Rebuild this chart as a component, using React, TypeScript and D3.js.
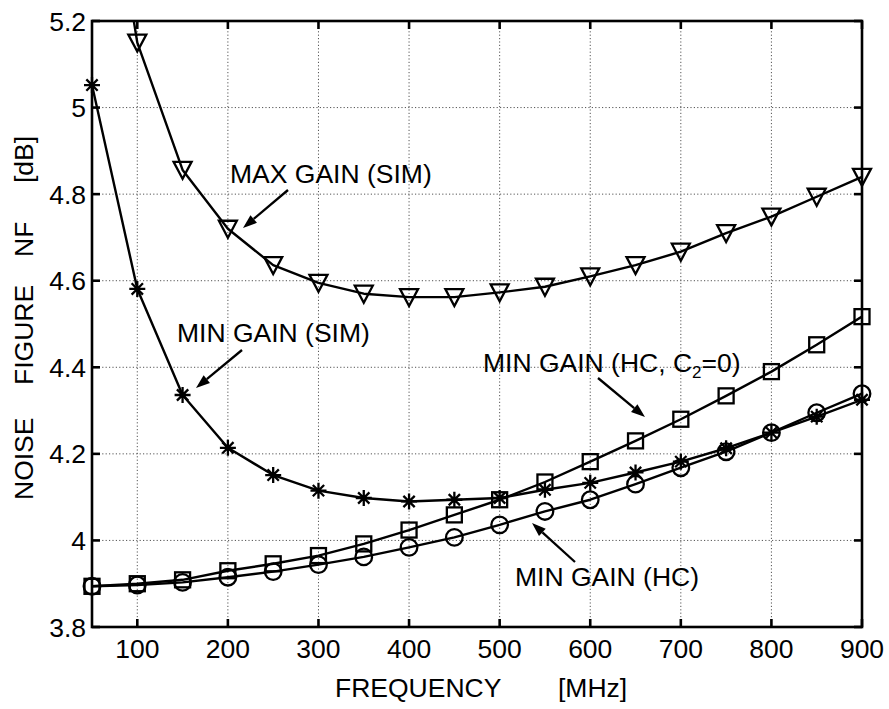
import React, { useEffect, useRef } from 'react';
import * as d3 from 'd3';

const frequencies = [50, 100, 150, 200, 250, 300, 350, 400, 450, 500, 550, 600, 650, 700, 750, 800, 850, 900];
const maxGainSim = [5.8, 5.15, 4.856, 4.72, 4.636, 4.595, 4.57, 4.562, 4.562, 4.573, 4.586, 4.61, 4.636, 4.667, 4.71, 4.748, 4.794, 4.84];
const minGainSim = [5.052, 4.581, 4.336, 4.214, 4.151, 4.115, 4.098, 4.09, 4.094, 4.098, 4.117, 4.133, 4.157, 4.182, 4.213, 4.249, 4.286, 4.325];
const minGainHcC2 = [3.894, 3.9, 3.909, 3.93, 3.946, 3.965, 3.992, 4.024, 4.059, 4.094, 4.135, 4.182, 4.23, 4.28, 4.334, 4.39, 4.452, 4.517];
const minGainHc = [3.894, 3.897, 3.903, 3.915, 3.928, 3.944, 3.962, 3.984, 4.007, 4.036, 4.067, 4.094, 4.13, 4.168, 4.205, 4.249, 4.295, 4.339];

const xTicks = [100, 200, 300, 400, 500, 600, 700, 800, 900];
const yTicks = [3.8, 4, 4.2, 4.4, 4.6, 4.8, 5, 5.2];
const yTickLabels = ['3.8', '4', '4.2', '4.4', '4.6', '4.8', '5', '5.2'];

const FONT = '"Liberation Sans", Arial, Helvetica, sans-serif';

export default function App() {
  const ref = useRef<SVGSVGElement>(null);

  useEffect(() => {
    const svg = d3.select(ref.current);
    svg.selectAll('*').remove();

    const left = 92, right = 862, top = 21, bottom = 627;
    const x = d3.scaleLinear().domain([50, 900]).range([left, right]);
    const y = d3.scaleLinear().domain([3.8, 5.2]).range([bottom, top]);

    svg.append('rect').attr('width', 889).attr('height', 709).attr('fill', '#fff');

    const defs = svg.append('defs');
    defs.append('clipPath').attr('id', 'plotclip')
      .append('rect').attr('x', left).attr('y', top).attr('width', right - left).attr('height', bottom - top);

    // grid
    const grid = svg.append('g').attr('stroke', '#555').attr('stroke-width', 1).attr('stroke-dasharray', '1.2,2.2');
    xTicks.filter(t => t < 900).forEach(t => {
      grid.append('line').attr('x1', x(t)).attr('x2', x(t)).attr('y1', top).attr('y2', bottom);
    });
    yTicks.filter(t => t > 3.8 && t < 5.2).forEach(t => {
      grid.append('line').attr('x1', left).attr('x2', right).attr('y1', y(t)).attr('y2', y(t));
    });

    // series
    const seriesList = [
      { values: maxGainSim, marker: 'tri' },
      { values: minGainSim, marker: 'star' },
      { values: minGainHcC2, marker: 'square' },
      { values: minGainHc, marker: 'circle' },
    ];

    const line = d3.line<number>()
      .x((_, i) => x(frequencies[i]))
      .y(d => y(d));

    const plot = svg.append('g');
    seriesList.forEach(s => {
      plot.append('path')
        .attr('d', line(s.values) as string)
        .attr('clip-path', 'url(#plotclip)')
        .attr('fill', 'none')
        .attr('stroke', '#000')
        .attr('stroke-width', 2.4)
        .attr('stroke-linejoin', 'round');
    });

    seriesList.forEach(s => {
      const g = plot.append('g').attr('fill', 'none').attr('stroke', '#000').attr('stroke-width', 2.3);
      s.values.forEach((v, i) => {
        if (v > 5.2 || v < 3.8) return;
        const cx = x(frequencies[i]);
        const cy = y(v);
        if (s.marker === 'tri') {
          g.append('path').attr('d', `M${cx - 9},${cy - 8}L${cx + 9},${cy - 8}L${cx},${cy + 9}Z`).attr('stroke-linejoin', 'miter');
        } else if (s.marker === 'square') {
          g.append('rect').attr('x', cx - 7.5).attr('y', cy - 7.5).attr('width', 15).attr('height', 15);
        } else if (s.marker === 'circle') {
          g.append('circle').attr('cx', cx).attr('cy', cy).attr('r', 8.3);
        } else {
          const r = 8;
          const d = r * Math.SQRT1_2;
          g.append('path').attr('d',
            `M${cx - r},${cy}L${cx + r},${cy}M${cx},${cy - r}L${cx},${cy + r}` +
            `M${cx - d},${cy - d}L${cx + d},${cy + d}M${cx - d},${cy + d}L${cx + d},${cy - d}`);
        }
      });
    });

    // frame
    svg.append('rect').attr('x', left).attr('y', top).attr('width', right - left).attr('height', bottom - top)
      .attr('fill', 'none').attr('stroke', '#000').attr('stroke-width', 2.6);

    // ticks (inward)
    const ticks = svg.append('g').attr('stroke', '#000').attr('stroke-width', 2.6);
    const tl = 8;
    xTicks.forEach(t => {
      ticks.append('line').attr('x1', x(t)).attr('x2', x(t)).attr('y1', bottom).attr('y2', bottom - tl);
      ticks.append('line').attr('x1', x(t)).attr('x2', x(t)).attr('y1', top).attr('y2', top + tl);
    });
    yTicks.forEach(t => {
      ticks.append('line').attr('x1', left).attr('x2', left + tl).attr('y1', y(t)).attr('y2', y(t));
      ticks.append('line').attr('x1', right).attr('x2', right - tl).attr('y1', y(t)).attr('y2', y(t));
    });

    // tick labels
    const labels = svg.append('g').attr('font-family', FONT).attr('font-size', 26.5).attr('fill', '#000');
    xTicks.forEach(t => {
      labels.append('text').attr('x', x(t)).attr('y', 658).attr('text-anchor', 'middle').text(String(t));
    });
    yTicks.forEach((t, i) => {
      labels.append('text').attr('x', 86).attr('y', y(t)).attr('dy', '0.36em').attr('text-anchor', 'end').text(yTickLabels[i]);
    });

    // axis titles
    const xt = labels.append('text').attr('y', 697);
    xt.append('tspan').attr('x', 335).text('FREQUENCY');
    xt.append('tspan').attr('x', 558).text('[MHz]');

    const yt = labels.append('text').attr('transform', 'translate(33,0) rotate(-90)');
    yt.append('tspan').attr('x', -500).text('NOISE');
    yt.append('tspan').attr('x', -385).text('FIGURE');
    yt.append('tspan').attr('x', -257).text('NF');
    yt.append('tspan').attr('x', -183).text('[dB]');

    // annotations
    const ann = svg.append('g').attr('font-family', FONT).attr('font-size', 26.5).attr('fill', '#000');
    ann.append('text').attr('x', 230).attr('y', 183).text('MAX GAIN (SIM)');
    ann.append('text').attr('x', 177).attr('y', 342).text('MIN GAIN (SIM)');
    const hc2 = ann.append('text').attr('x', 483).attr('y', 372);
    hc2.append('tspan').text('MIN GAIN (HC, C');
    hc2.append('tspan').attr('font-size', 17).attr('dy', 6).text('2');
    hc2.append('tspan').attr('dy', -6).text('=0)');
    ann.append('text').attr('x', 515).attr('y', 586).text('MIN GAIN (HC)');

    const arrow = (x1: number, y1: number, x2: number, y2: number) => {
      const ang = Math.atan2(y2 - y1, x2 - x1);
      const L = 14, W = 5;
      const bx = x2 - L * Math.cos(ang), by = y2 - L * Math.sin(ang);
      svg.append('line').attr('x1', x1).attr('y1', y1).attr('x2', bx).attr('y2', by)
        .attr('stroke', '#000').attr('stroke-width', 2.3);
      const px = -Math.sin(ang) * W, py = Math.cos(ang) * W;
      svg.append('path').attr('d', `M${x2},${y2}L${bx + px},${by + py}L${bx - px},${by - py}Z`).attr('fill', '#000');
    };
    arrow(288, 190, 243, 228);
    arrow(242, 350, 196, 388);
    arrow(598, 378, 645, 417);
    arrow(575, 562, 532, 523);
  }, []);

  return <svg ref={ref} width={889} height={709} style={{ position: 'absolute', left: 0, top: 0 }} />;
}
